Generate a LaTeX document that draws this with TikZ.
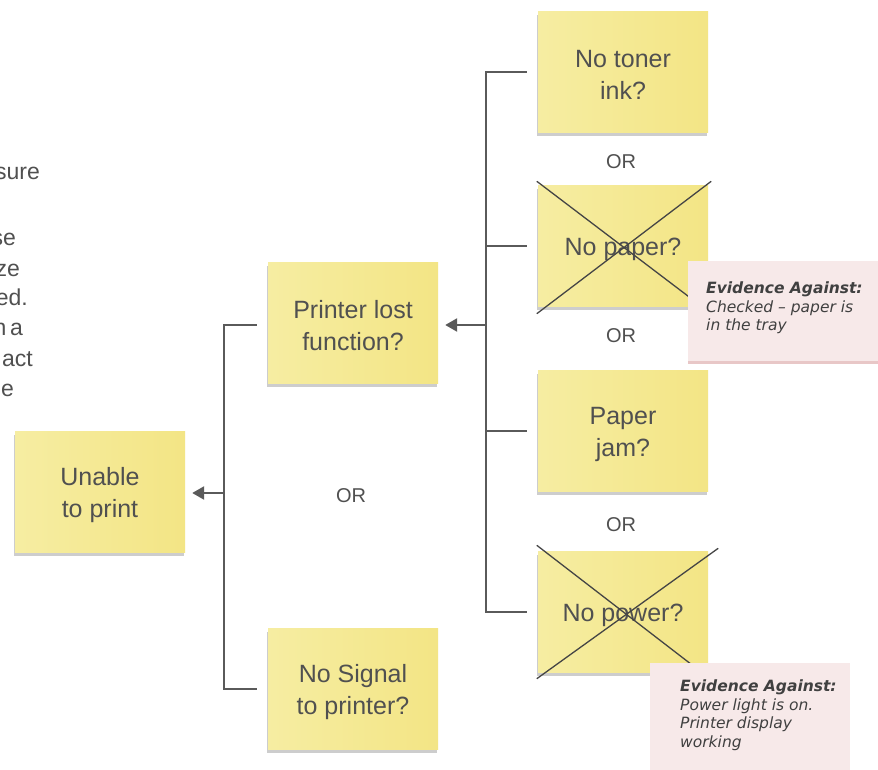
\documentclass[tikz,border=0pt]{standalone}
\usepackage{fontspec}
\setmainfont{Liberation Sans}
\newfontfamily\handfont{DejaVu Sans}
\usetikzlibrary{arrows.meta,shadows,calc}
\definecolor{ink}{HTML}{505050}
\definecolor{evink}{HTML}{404040}
\definecolor{lineg}{HTML}{5A5A5A}
\definecolor{crossg}{HTML}{454545}
\definecolor{stickyL}{HTML}{F6EDA2}
\definecolor{stickyR}{HTML}{F3E585}
\definecolor{pinknote}{HTML}{F7E9E9}
\definecolor{pinkshadow}{HTML}{D9A3A3}
\begin{document}
\begin{tikzpicture}[x=1pt,y=-1pt,
  sticky/.style={minimum width=170pt, minimum height=121pt, inner sep=0pt,
    left color=stickyL, right color=stickyR,
    drop shadow={shadow xshift=-1.5pt, shadow yshift=-3.5pt, opacity=0.28, fill=black!70}},
  stext/.style={text=ink, align=center, inner sep=0pt, yshift=-3pt,
    font=\fontsize{25}{32}\selectfont},
  pinkbox/.style={anchor=north west, minimum width=200pt, minimum height=100pt,
    inner sep=0pt, fill=pinknote,
    drop shadow={shadow xshift=0pt, shadow yshift=-3pt, opacity=0.6, fill=pinkshadow}},
  evtext/.style={anchor=north west, inner sep=0pt, align=left, text=evink,
    font=\handfont\itshape\fontsize{15.5}{18.5}\selectfont},
  orlabel/.style={text=ink, font=\fontsize{20}{24}\selectfont, inner sep=0pt},
  cuttext/.style={anchor=base east, inner sep=0pt, text=ink, font=\fontsize{23}{28}\selectfont},
  conn/.style={draw=lineg, line width=2.5pt},
  arr/.style={conn, -{Triangle[length=12pt,width=13pt]}},
  crossline/.style={draw=crossg, line width=1.3pt}
]
\useasboundingbox (0,0) rectangle (878,770);
\fill[white] (0,0) rectangle (878,770);

% cut-off text at the left edge (the reference shows it cut by the frame)
\begin{scope}
\clip (0,0) rectangle (878,770);
\node[cuttext] (c1) at (40,180) {sure};
\node[cuttext] (c2) at (16,246) {se};
\node[cuttext] (c3) at (20,276) {ze};
\node[cuttext] (c4) at (28,305) {ed.};
\node[cuttext] (c5) at (23,335) {n\kern3.5pt a};
\node[cuttext] (c6) at (33,366) {act};
\node[cuttext] (c7) at (14,396) {e};
\end{scope}

% sticky notes
\node[sticky, label={[stext]center:{Unable\\to print}}]      (unable)  at (100,492) {};
\node[sticky, label={[stext]center:{Printer lost\\function?}}] (printer) at (353,323) {};
\node[sticky, label={[stext]center:{No Signal\\to printer?}}]  (signal)  at (353,689) {};
\node[sticky, label={[stext]center:{No toner\\ink?}}]          (toner)   at (623,72)  {};
\node[sticky, label={[stext]center:{No paper?}}]               (paper)   at (623,246) {};
\node[sticky, label={[stext]center:{Paper\\jam?}}]             (jam)     at (623,431) {};
\node[sticky, label={[stext]center:{No power?}}]               (power)   at (623,612) {};

% crosses
\draw[crossline] ($(paper.north west)+(-1,-4)$) -- ($(paper.south east)+(3,7)$);
\draw[crossline] ($(paper.south west)+(-1,7)$) -- ($(paper.north east)+(3,-4)$);
\draw[crossline] ($(power.north west)+(-1,-6)$) -- ($(power.south east)+(3,7)$);
\draw[crossline] ($(power.south west)+(-1,6)$) -- ($(power.north east)+(10,-3)$);

% OR labels
\node[orlabel] (or1) at (621,162) {OR};
\node[orlabel] (or2) at (621,336) {OR};
\node[orlabel] (or3) at (621,525) {OR};
\node[orlabel] (or4) at (351,496) {OR};

% right bracket
\coordinate (rj) at (486,325);
\draw[conn] ([xshift=-11pt]toner.west) -| (rj) |- ([xshift=-11pt]power.west);
\draw[conn] ([xshift=-11pt]paper.west) -- (paper.west -| rj);
\draw[conn] ([xshift=-11pt]jam.west) -- (jam.west -| rj);
\draw[arr] (rj) -- ([xshift=7pt]printer.east |- rj);

% left bracket
\coordinate (lj) at (224,493);
\draw[conn] ([xshift=-11pt]printer.west |- 0,325) -| (lj) |- ([xshift=-11pt]signal.west);
\draw[arr] (lj) -- ([xshift=7pt]unable.east |- lj);

% evidence notes
\node[pinkbox] (ev1) at (688,261) {};
\node[evtext] (ev1t) at (706,282) {\bfseries Evidence Against:\\Checked – paper is\\in the tray};
\node[pinkbox, minimum height=115pt] (ev2) at (650,663) {};
\node[evtext] (ev2t) at (680,680) {\bfseries Evidence Against:\\Power light is on.\\Printer display\\working};
\end{tikzpicture}
\end{document}
